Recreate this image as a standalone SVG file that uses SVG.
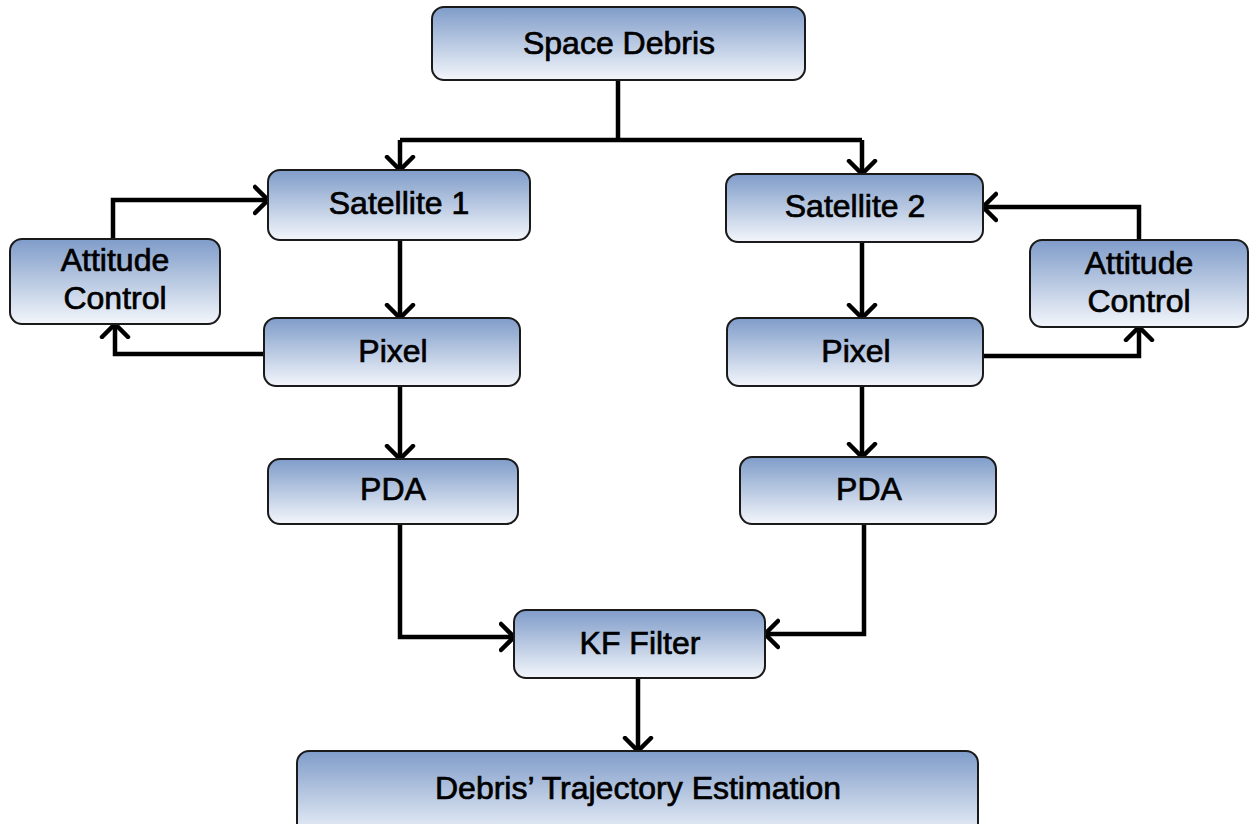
<svg xmlns="http://www.w3.org/2000/svg" width="1249" height="824" viewBox="0 0 1249 824">
<defs>
<linearGradient id="g" x1="0" y1="0" x2="0" y2="1">
<stop offset="0" stop-color="#7f9cc9"/>
<stop offset="1" stop-color="#f3f6fb"/>
</linearGradient>
<marker id="ah" viewBox="0 0 18 32" refX="15" refY="16" markerWidth="18" markerHeight="32" markerUnits="userSpaceOnUse" orient="auto">
<path d="M2,3 L15,16 L2,29" fill="none" stroke="#000" stroke-width="4.5" stroke-linecap="round" stroke-linejoin="miter"/>
</marker>
</defs>
<style>
.box{fill:url(#g);stroke:#1a1a1a;stroke-width:2}
.t{font-family:"Liberation Sans",Arial,sans-serif;font-size:32px;text-anchor:middle;fill:#000;stroke:#000;stroke-width:0.7}
.c{fill:none;stroke:#000;stroke-width:4.5;stroke-linejoin:miter}
.a{marker-end:url(#ah)}
</style>
<rect width="1249" height="824" fill="#fff"/>
<g id="connectors">
<path class="c" d="M618,80 V140"/>
<path class="c" d="M400,140 H862"/>
<path class="c a" d="M400,140 V170"/>
<path class="c a" d="M862,140 V174"/>
<path class="c a" d="M400,240 V318"/>
<path class="c a" d="M400,386 V459"/>
<path class="c a" d="M862,242 V318"/>
<path class="c a" d="M862,386 V457"/>
<path class="c a" d="M113,239 V200 H268"/>
<path class="c a" d="M264,354 H115 V324"/>
<path class="c a" d="M1139,240 V207 H983"/>
<path class="c a" d="M983,356 H1139 V327"/>
<path class="c a" d="M400,524 V637 H514"/>
<path class="c a" d="M864,524 V634 H765"/>
<path class="c a" d="M638,678 V751"/>
</g>
<g id="space-debris"><rect class="box" x="432" y="7" width="373" height="73" rx="12"/><text class="t" x="619" y="54">Space Debris</text></g>
<g id="satellite-1"><rect class="box" x="268" y="170" width="262" height="70" rx="12"/><text class="t" x="399" y="214">Satellite 1</text></g>
<g id="satellite-2"><rect class="box" x="726" y="174" width="257" height="68" rx="12"/><text class="t" x="855" y="217">Satellite 2</text></g>
<g id="attitude-left"><rect class="box" x="10" y="239" width="210" height="85" rx="12"/><text class="t" x="115" y="271">Attitude</text><text class="t" x="115" y="309">Control</text></g>
<g id="attitude-right"><rect class="box" x="1030" y="240" width="218" height="87" rx="12"/><text class="t" x="1139" y="274">Attitude</text><text class="t" x="1139" y="312">Control</text></g>
<g id="pixel-1"><rect class="box" x="264" y="318" width="256" height="68" rx="12"/><text class="t" x="393" y="362">Pixel</text></g>
<g id="pixel-2"><rect class="box" x="727" y="318" width="256" height="68" rx="12"/><text class="t" x="856" y="362">Pixel</text></g>
<g id="pda-1"><rect class="box" x="268" y="459" width="250" height="65" rx="12"/><text class="t" x="393" y="500">PDA</text></g>
<g id="pda-2"><rect class="box" x="740" y="457" width="256" height="67" rx="12"/><text class="t" x="869" y="500">PDA</text></g>
<g id="kf-filter"><rect class="box" x="514" y="610" width="251" height="68" rx="12"/><text class="t" x="640" y="654">KF Filter</text></g>
<g id="trajectory"><rect class="box" x="297" y="751" width="681" height="90" rx="12"/><text class="t" x="638" y="799">Debris’ Trajectory Estimation</text></g>
</svg>
